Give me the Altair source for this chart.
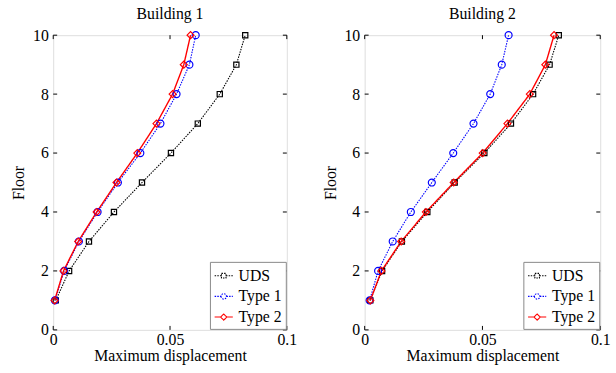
import altair as alt
import pandas as pd

floors = [1, 2, 3, 4, 5, 6, 7, 8, 9, 10]
series = ["UDS", "Type 1", "Type 2"]
colors = ["#000000", "#0000ff", "#ff0000"]
markers = ["square", "circle", "diamond"]
dashes = [[1.5, 1.2], [1.5, 1.2], [1, 0]]

b1_uds = [0.0011, 0.0068, 0.0153, 0.0260, 0.0380, 0.0504, 0.0619, 0.0713, 0.0784, 0.0822]
b1_t1 = [0.0007, 0.0047, 0.0110, 0.0190, 0.0277, 0.0373, 0.0459, 0.0528, 0.0583, 0.0610]
b1_t2 = [0.0006, 0.0044, 0.0107, 0.0186, 0.0271, 0.0360, 0.0442, 0.0511, 0.0559, 0.0588]

b2_uds = [0.0024, 0.0074, 0.0158, 0.0266, 0.0382, 0.0508, 0.0621, 0.0715, 0.0785, 0.0824]
b2_t1 = [0.0021, 0.0057, 0.0119, 0.0196, 0.0285, 0.0376, 0.0462, 0.0533, 0.0582, 0.0611]
b2_t2 = [0.0024, 0.0071, 0.0155, 0.0260, 0.0378, 0.0501, 0.0606, 0.0701, 0.0767, 0.0804]

x_ticks = [0, 0.05, 0.1]
y_ticks = [0, 2, 4, 6, 8, 10]

FONT = "'Liberation Serif', 'Times New Roman', serif"
FS = 16
H = 299
TL = 4

legend_paths = [
    "M-1,0H-0.25M0.25,0H1M-0.25,-0.25H0.25V0.25H-0.25Z",
    "M-1,0H-0.3M0.3,0H1M-0.3,0A0.3,0.3 0 1,0 0.3,0A0.3,0.3 0 1,0 -0.3,0Z",
    "M-1,0H-0.34M0.34,0H1M-0.34,0L0,-0.34L0.34,0L0,0.34Z",
]


def panel(title, uds, t1, t2, W):
    rows = []
    for name, vals in zip(series, [uds, t1, t2]):
        for f, v in zip(floors, vals):
            rows.append({"series": name, "floor": f, "disp": v})
    df = pd.DataFrame(rows)

    xs = alt.Scale(domain=[0, 0.1], nice=False, zero=False)
    ys = alt.Scale(domain=[0, 10], nice=False)
    x = alt.X("disp:Q", scale=xs, axis=alt.Axis(
        values=x_ticks, title="Maximum displacement", tickSize=0, domain=False, grid=False,
        labelFont=FONT, labelFontSize=FS, titleFont=FONT, titleFontSize=FS,
        titleFontWeight="normal", labelColor="#000", titleColor="#000", labelPadding=2,
        titlePadding=0, format="~g", labelFlush=False))
    y = alt.Y("floor:Q", scale=ys, axis=alt.Axis(
        values=y_ticks, title="Floor", tickSize=0, domain=False, grid=False,
        labelFont=FONT, labelFontSize=FS, titleFont=FONT, titleFontSize=FS,
        titleFontWeight="normal", labelColor="#000", titleColor="#000", labelPadding=5,
        titlePadding=6, labelFlush=False))

    base = alt.Chart(df)
    layers = []
    for name, col, mk, dsh in zip(series, colors, markers, dashes):
        sub = base.transform_filter(alt.datum.series == name)
        layers.append(sub.mark_line(color=col, strokeDash=dsh,
                                    strokeWidth=1.4 if name == "Type 2" else 1.1).encode(x=x, y=y))
    for name, col, mk, dsh in zip(series, colors, markers, dashes):
        sub = base.transform_filter(alt.datum.series == name)
        layers.append(sub.mark_point(shape=mk, color=col, filled=False, opacity=1, strokeWidth=1.2,
                                     size=28 if mk == "square" else 50).encode(x=x, y=y))

    legend_layer = base.transform_filter(alt.datum.floor < 0).mark_point(filled=False, opacity=1, strokeWidth=1.1).encode(
        x=x, y=y,
        color=alt.Color("series:N", scale=alt.Scale(domain=series, range=colors), legend=alt.Legend(
            title=None, orient="bottom-right", offset=1, fillColor="white", strokeColor="#888888",
            padding=4, labelFont=FONT, labelFontSize=FS, labelColor="#000", symbolSize=340,
            symbolStrokeWidth=1.1, rowPadding=3, labelOffset=5, labelLimit=200)),
        shape=alt.Shape("series:N", scale=alt.Scale(domain=series, range=legend_paths)),
        strokeDash=alt.StrokeDash("series:N", scale=alt.Scale(domain=series, range=dashes)),
    )

    xt = alt.Chart(pd.DataFrame({"v": x_ticks}))
    yt = alt.Chart(pd.DataFrame({"v": y_ticks}))
    tick_style = dict(color="black", strokeWidth=1)
    ticks = [
        xt.mark_rule(**tick_style).encode(x=alt.X("v:Q", scale=xs), y=alt.value(H), y2=alt.value(H - TL)),
        xt.mark_rule(**tick_style).encode(x=alt.X("v:Q", scale=xs), y=alt.value(0), y2=alt.value(TL)),
        yt.mark_rule(**tick_style).encode(y=alt.Y("v:Q", scale=ys), x=alt.value(0), x2=alt.value(TL)),
        yt.mark_rule(**tick_style).encode(y=alt.Y("v:Q", scale=ys), x=alt.value(W), x2=alt.value(W - TL)),
    ]
    return alt.layer(*ticks, *layers, legend_layer).properties(
        width=W, height=H,
        title=alt.TitleParams(title, font=FONT, fontSize=FS, fontWeight="normal", color="#000", offset=5),
    )


p1 = panel("Building 1", b1_uds, b1_t1, b1_t2, 237)
p2 = panel("Building 2", b2_uds, b2_t1, b2_t2, 239)

chart = alt.hconcat(p1, p2, spacing=24).resolve_scale(
    color="independent", shape="independent", strokeDash="independent"
).properties(
    padding={"left": 10, "top": 3, "right": 5, "bottom": 2}
).configure_view(stroke="black", strokeWidth=1.2).configure(background="white")

chart.save("out.html", embed_options={"renderer": "svg", "actions": False})
